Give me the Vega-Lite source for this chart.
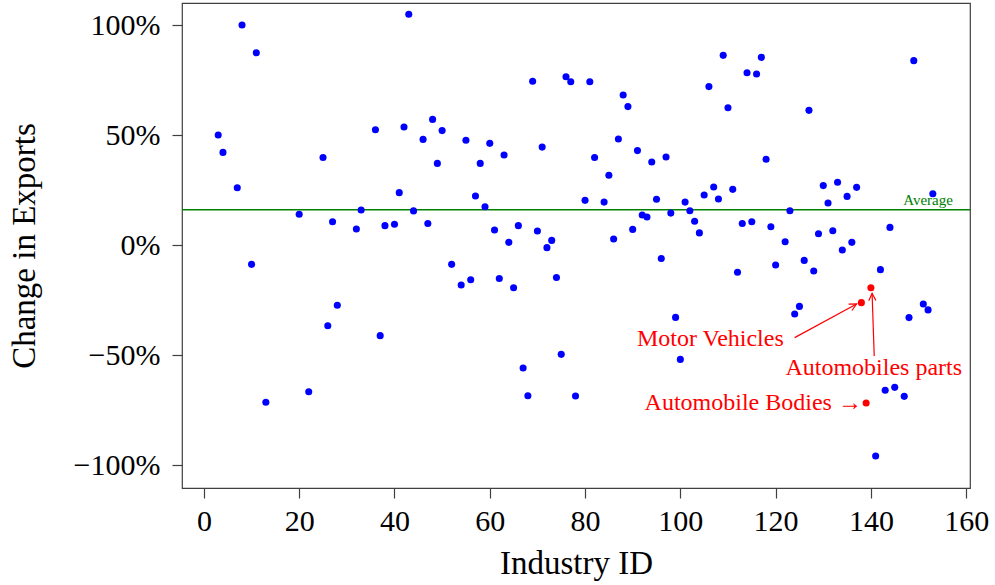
{
  "$schema": "https://vega.github.io/schema/vega-lite/v6.json",
  "width": 788,
  "height": 485,
  "autosize": {"type": "none"},
  "padding": {"left": 182, "top": 3, "right": 25, "bottom": 97},
  "background": "white",
  "config": {
    "view": {"stroke": "#404040", "strokeWidth": 1.2},
    "axis": {
      "domain": false,
      "grid": false,
      "labelFont": "Liberation Serif",
      "titleFont": "Liberation Serif",
      "labelFontSize": 30,
      "titleFontSize": 33,
      "labelColor": "#000000",
      "titleColor": "#000000",
      "titleFontWeight": "normal",
      "tickColor": "#404040",
      "tickSize": 10,
      "tickWidth": 1.2
    },
    "text": {"font": "Liberation Serif"}
  },
  "datasets": {
    "industries": [
      {"industry": 3, "change": 0.50, "group": "other"},
      {"industry": 4, "change": 0.421, "group": "other"},
      {"industry": 7, "change": 0.26, "group": "other"},
      {"industry": 8, "change": 1.00, "group": "other"},
      {"industry": 10, "change": -0.088, "group": "other"},
      {"industry": 11, "change": 0.874, "group": "other"},
      {"industry": 13, "change": -0.715, "group": "other"},
      {"industry": 20, "change": 0.14, "group": "other"},
      {"industry": 22, "change": -0.667, "group": "other"},
      {"industry": 25, "change": 0.398, "group": "other"},
      {"industry": 26, "change": -0.367, "group": "other"},
      {"industry": 27, "change": 0.106, "group": "other"},
      {"industry": 28, "change": -0.274, "group": "other"},
      {"industry": 32, "change": 0.073, "group": "other"},
      {"industry": 33, "change": 0.159, "group": "other"},
      {"industry": 36, "change": 0.524, "group": "other"},
      {"industry": 37, "change": -0.412, "group": "other"},
      {"industry": 38, "change": 0.088, "group": "other"},
      {"industry": 40, "change": 0.094, "group": "other"},
      {"industry": 41, "change": 0.238, "group": "other"},
      {"industry": 42, "change": 0.536, "group": "other"},
      {"industry": 43, "change": 1.049, "group": "other"},
      {"industry": 44, "change": 0.155, "group": "other"},
      {"industry": 46, "change": 0.48, "group": "other"},
      {"industry": 47, "change": 0.098, "group": "other"},
      {"industry": 48, "change": 0.571, "group": "other"},
      {"industry": 49, "change": 0.371, "group": "other"},
      {"industry": 50, "change": 0.52, "group": "other"},
      {"industry": 52, "change": -0.088, "group": "other"},
      {"industry": 54, "change": -0.182, "group": "other"},
      {"industry": 55, "change": 0.476, "group": "other"},
      {"industry": 56, "change": -0.158, "group": "other"},
      {"industry": 57, "change": 0.223, "group": "other"},
      {"industry": 58, "change": 0.371, "group": "other"},
      {"industry": 59, "change": 0.174, "group": "other"},
      {"industry": 60, "change": 0.462, "group": "other"},
      {"industry": 61, "change": 0.068, "group": "other"},
      {"industry": 62, "change": -0.152, "group": "other"},
      {"industry": 63, "change": 0.409, "group": "other"},
      {"industry": 64, "change": 0.012, "group": "other"},
      {"industry": 65, "change": -0.194, "group": "other"},
      {"industry": 66, "change": 0.088, "group": "other"},
      {"industry": 67, "change": -0.559, "group": "other"},
      {"industry": 68, "change": -0.685, "group": "other"},
      {"industry": 69, "change": 0.744, "group": "other"},
      {"industry": 70, "change": 0.064, "group": "other"},
      {"industry": 71, "change": 0.445, "group": "other"},
      {"industry": 72, "change": -0.012, "group": "other"},
      {"industry": 73, "change": 0.021, "group": "other"},
      {"industry": 74, "change": -0.148, "group": "other"},
      {"industry": 75, "change": -0.497, "group": "other"},
      {"industry": 76, "change": 0.765, "group": "other"},
      {"industry": 77, "change": 0.742, "group": "other"},
      {"industry": 78, "change": -0.686, "group": "other"},
      {"industry": 80, "change": 0.203, "group": "other"},
      {"industry": 81, "change": 0.742, "group": "other"},
      {"industry": 82, "change": 0.398, "group": "other"},
      {"industry": 84, "change": 0.195, "group": "other"},
      {"industry": 85, "change": 0.317, "group": "other"},
      {"industry": 86, "change": 0.027, "group": "other"},
      {"industry": 87, "change": 0.482, "group": "other"},
      {"industry": 88, "change": 0.682, "group": "other"},
      {"industry": 89, "change": 0.629, "group": "other"},
      {"industry": 90, "change": 0.071, "group": "other"},
      {"industry": 91, "change": 0.429, "group": "other"},
      {"industry": 92, "change": 0.136, "group": "other"},
      {"industry": 93, "change": 0.127, "group": "other"},
      {"industry": 94, "change": 0.377, "group": "other"},
      {"industry": 95, "change": 0.208, "group": "other"},
      {"industry": 96, "change": -0.061, "group": "other"},
      {"industry": 97, "change": 0.40, "group": "other"},
      {"industry": 98, "change": 0.145, "group": "other"},
      {"industry": 99, "change": -0.329, "group": "other"},
      {"industry": 100, "change": -0.52, "group": "other"},
      {"industry": 101, "change": 0.195, "group": "other"},
      {"industry": 102, "change": 0.156, "group": "other"},
      {"industry": 103, "change": 0.108, "group": "other"},
      {"industry": 104, "change": 0.055, "group": "other"},
      {"industry": 105, "change": 0.227, "group": "other"},
      {"industry": 106, "change": 0.72, "group": "other"},
      {"industry": 107, "change": 0.264, "group": "other"},
      {"industry": 108, "change": 0.209, "group": "other"},
      {"industry": 109, "change": 0.862, "group": "other"},
      {"industry": 110, "change": 0.624, "group": "other"},
      {"industry": 111, "change": 0.253, "group": "other"},
      {"industry": 112, "change": -0.124, "group": "other"},
      {"industry": 113, "change": 0.098, "group": "other"},
      {"industry": 114, "change": 0.783, "group": "other"},
      {"industry": 115, "change": 0.106, "group": "other"},
      {"industry": 116, "change": 0.777, "group": "other"},
      {"industry": 117, "change": 0.853, "group": "other"},
      {"industry": 118, "change": 0.39, "group": "other"},
      {"industry": 119, "change": 0.083, "group": "other"},
      {"industry": 120, "change": -0.091, "group": "other"},
      {"industry": 122, "change": 0.015, "group": "other"},
      {"industry": 123, "change": 0.156, "group": "other"},
      {"industry": 124, "change": -0.314, "group": "other"},
      {"industry": 125, "change": -0.279, "group": "other"},
      {"industry": 126, "change": -0.07, "group": "other"},
      {"industry": 127, "change": 0.612, "group": "other"},
      {"industry": 128, "change": -0.118, "group": "other"},
      {"industry": 129, "change": 0.051, "group": "other"},
      {"industry": 130, "change": 0.27, "group": "other"},
      {"industry": 131, "change": 0.191, "group": "other"},
      {"industry": 132, "change": 0.065, "group": "other"},
      {"industry": 133, "change": 0.285, "group": "other"},
      {"industry": 134, "change": -0.023, "group": "other"},
      {"industry": 135, "change": 0.221, "group": "other"},
      {"industry": 136, "change": 0.012, "group": "other"},
      {"industry": 137, "change": 0.262, "group": "other"},
      {"industry": 138, "change": -0.262, "group": "highlight"},
      {"industry": 139, "change": -0.718, "group": "highlight"},
      {"industry": 140, "change": -0.194, "group": "highlight"},
      {"industry": 141, "change": -0.959, "group": "other"},
      {"industry": 142, "change": -0.112, "group": "other"},
      {"industry": 143, "change": -0.66, "group": "other"},
      {"industry": 144, "change": 0.08, "group": "other"},
      {"industry": 145, "change": -0.647, "group": "other"},
      {"industry": 147, "change": -0.688, "group": "other"},
      {"industry": 148, "change": -0.33, "group": "other"},
      {"industry": 149, "change": 0.838, "group": "other"},
      {"industry": 151, "change": -0.268, "group": "other"},
      {"industry": 152, "change": -0.295, "group": "other"},
      {"industry": 153, "change": 0.233, "group": "other"}
    ],
    "average": [
      {"change": 0.16, "label": "Average", "industry": 157.2, "labelChange": 0.205}
    ],
    "labels": [
      {"label": "Motor Vehicles", "industry": 106.3, "change": -0.427},
      {"label": "Automobiles parts", "industry": 140.6, "change": -0.559},
      {"label": "Automobile Bodies →", "industry": 115.3, "change": -0.718}
    ],
    "arrows": [
      {"name": "Motor Vehicles", "industry": 124.0, "change": -0.421, "industry2": 137.0, "change2": -0.268},
      {"name": "Automobiles parts", "industry": 140.7, "change": -0.505, "industry2": 140.25, "change2": -0.22}
    ]
  },
  "layer": [
    {
      "data": {"name": "average"},
      "mark": {"type": "rule", "color": "#008000", "strokeWidth": 1.5},
      "encoding": {
        "y": {"field": "change", "type": "quantitative", "scale": {"domain": [-1.1045, 1.10], "nice": false, "zero": false},
              "axis": {"title": "Change in Exports", "values": [-1, -0.5, 0, 0.5, 1], "format": ".0%", "labelPadding": 12, "titlePadding": 32}}
      }
    },
    {
      "data": {"name": "average"},
      "mark": {"type": "text", "color": "#008000", "fontSize": 15, "align": "right", "baseline": "middle"},
      "encoding": {
        "x": {"field": "industry", "type": "quantitative", "scale": {"domain": [-4.6, 160.8], "nice": false, "zero": false},
              "axis": {"title": "Industry ID", "values": [0, 20, 40, 60, 80, 100, 120, 140, 160], "labelPadding": 8, "titlePadding": 11}},
        "y": {"field": "labelChange", "type": "quantitative", "scale": {"domain": [-1.1045, 1.10], "nice": false, "zero": false},
              "axis": {"title": "Change in Exports", "values": [-1, -0.5, 0, 0.5, 1], "format": ".0%", "labelPadding": 12, "titlePadding": 32}},
        "text": {"field": "label"}
      }
    },
    {
      "data": {"name": "industries"},
      "mark": {"type": "circle", "size": 50, "opacity": 1},
      "encoding": {
        "x": {"field": "industry", "type": "quantitative", "scale": {"domain": [-4.6, 160.8], "nice": false, "zero": false},
              "axis": {"title": "Industry ID", "values": [0, 20, 40, 60, 80, 100, 120, 140, 160], "labelPadding": 8, "titlePadding": 11}},
        "y": {"field": "change", "type": "quantitative", "scale": {"domain": [-1.1045, 1.10], "nice": false, "zero": false},
              "axis": {"title": "Change in Exports", "values": [-1, -0.5, 0, 0.5, 1], "format": ".0%", "labelPadding": 12, "titlePadding": 32}},
        "color": {"field": "group", "type": "nominal", "scale": {"domain": ["other", "highlight"], "range": ["#0000ff", "#ff0000"]}, "legend": null}
      }
    },
    {
      "data": {"name": "arrows"},
      "mark": {"type": "rule", "color": "#ff0000", "strokeWidth": 1.2},
      "encoding": {
        "x": {"field": "industry", "type": "quantitative", "scale": {"domain": [-4.6, 160.8], "nice": false, "zero": false},
              "axis": {"title": "Industry ID", "values": [0, 20, 40, 60, 80, 100, 120, 140, 160], "labelPadding": 8, "titlePadding": 11}},
        "y": {"field": "change", "type": "quantitative", "scale": {"domain": [-1.1045, 1.10], "nice": false, "zero": false},
              "axis": {"title": "Change in Exports", "values": [-1, -0.5, 0, 0.5, 1], "format": ".0%", "labelPadding": 12, "titlePadding": 32}},
        "x2": {"field": "industry2"},
        "y2": {"field": "change2"}
      }
    },
    {
      "data": {"name": "arrows"},
      "transform": [{"filter": "datum.name === 'Motor Vehicles'"}],
      "mark": {"type": "point", "shape": "M-0.9,1.8L0,0L0.9,1.8", "filled": false, "size": 64, "angle": 62, "color": "#ff0000", "strokeWidth": 1.2, "opacity": 1},
      "encoding": {
        "x": {"field": "industry2", "type": "quantitative", "scale": {"domain": [-4.6, 160.8], "nice": false, "zero": false},
              "axis": {"title": "Industry ID", "values": [0, 20, 40, 60, 80, 100, 120, 140, 160], "labelPadding": 8, "titlePadding": 11}},
        "y": {"field": "change2", "type": "quantitative", "scale": {"domain": [-1.1045, 1.10], "nice": false, "zero": false},
              "axis": {"title": "Change in Exports", "values": [-1, -0.5, 0, 0.5, 1], "format": ".0%", "labelPadding": 12, "titlePadding": 32}}
      }
    },
    {
      "data": {"name": "arrows"},
      "transform": [{"filter": "datum.name === 'Automobiles parts'"}],
      "mark": {"type": "point", "shape": "M-0.9,1.8L0,0L0.9,1.8", "filled": false, "size": 64, "angle": 358, "color": "#ff0000", "strokeWidth": 1.2, "opacity": 1},
      "encoding": {
        "x": {"field": "industry2", "type": "quantitative", "scale": {"domain": [-4.6, 160.8], "nice": false, "zero": false},
              "axis": {"title": "Industry ID", "values": [0, 20, 40, 60, 80, 100, 120, 140, 160], "labelPadding": 8, "titlePadding": 11}},
        "y": {"field": "change2", "type": "quantitative", "scale": {"domain": [-1.1045, 1.10], "nice": false, "zero": false},
              "axis": {"title": "Change in Exports", "values": [-1, -0.5, 0, 0.5, 1], "format": ".0%", "labelPadding": 12, "titlePadding": 32}}
      }
    },
    {
      "data": {"name": "labels"},
      "mark": {"type": "text", "color": "#ff0000", "fontSize": 24, "align": "center", "baseline": "middle"},
      "encoding": {
        "x": {"field": "industry", "type": "quantitative", "scale": {"domain": [-4.6, 160.8], "nice": false, "zero": false},
              "axis": {"title": "Industry ID", "values": [0, 20, 40, 60, 80, 100, 120, 140, 160], "labelPadding": 8, "titlePadding": 11}},
        "y": {"field": "change", "type": "quantitative", "scale": {"domain": [-1.1045, 1.10], "nice": false, "zero": false},
              "axis": {"title": "Change in Exports", "values": [-1, -0.5, 0, 0.5, 1], "format": ".0%", "labelPadding": 12, "titlePadding": 32}},
        "text": {"field": "label"}
      }
    }
  ]
}
